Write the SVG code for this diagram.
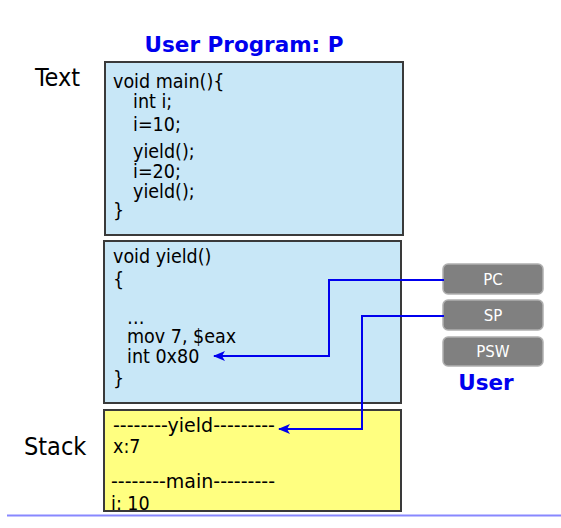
<svg xmlns="http://www.w3.org/2000/svg" width="561" height="528" viewBox="0 0 561 528">
<style>
.code{font-family:Tahoma,"DejaVu Sans Condensed","Liberation Sans",sans-serif;font-size:19.5px;fill:#000}
.lbl{font-family:Tahoma,"DejaVu Sans Condensed","Liberation Sans",sans-serif;font-size:25px;fill:#000}
.title{font-family:"DejaVu Sans","Liberation Sans",sans-serif;font-weight:bold;fill:#0000ee}
.seg{fill:#c8e7f7;stroke:#3a3a3a;stroke-width:2}
.stk{fill:#ffff80;stroke:#3a3a3a;stroke-width:2}
.reg{fill:#808080;stroke:#b0b0b0;stroke-width:1.5}
.regt{font-family:"DejaVu Sans","Liberation Sans",sans-serif;font-size:15px;fill:#fff;text-anchor:middle}
.conn{fill:none;stroke:#0000ee;stroke-width:2}
</style>
<defs>
<marker id="ah" viewBox="0 0 12 10" refX="11" refY="5" markerWidth="12" markerHeight="10" markerUnits="userSpaceOnUse" orient="auto">
<path d="M0,0 L12,5 L0,10 L3,5 Z" fill="#0000ee"/>
</marker>
</defs>
<rect width="561" height="528" fill="#fff"/>
<text class="title" x="244" y="52" font-size="21.5" text-anchor="middle">User Program: P</text>
<g id="label-text"><text class="lbl" x="35" y="86">Text</text></g>
<g id="label-stack"><text class="lbl" x="24" y="455">Stack</text></g>
<g id="main-seg">
<rect class="seg" x="105" y="62" width="298" height="173"/>
<text class="code" x="113" y="88">void main(){</text>
<text class="code" x="133" y="108">int i;</text>
<text class="code" x="133" y="131">i=10;</text>
<text class="code" x="133" y="158">yield();</text>
<text class="code" x="133" y="178">i=20;</text>
<text class="code" x="133" y="198">yield();</text>
<text class="code" x="113" y="217">}</text>
</g>
<g id="yield-seg">
<rect class="seg" x="104" y="241" width="297" height="162"/>
<text class="code" x="113" y="263">void yield()</text>
<text class="code" x="113" y="286">{</text>
<text class="code" x="127" y="324">…</text>
<text class="code" x="127" y="343">mov 7, $eax</text>
<text class="code" x="127" y="363">int 0x80</text>
<text class="code" x="113" y="385">}</text>
</g>
<g id="stack-seg">
<rect class="stk" x="104" y="410" width="297" height="101"/>
<text class="code" x="113" y="432" textLength="162" lengthAdjust="spacingAndGlyphs">--------yield---------</text>
<text class="code" x="113" y="453">x:7</text>
<text class="code" x="111" y="488" textLength="164" lengthAdjust="spacingAndGlyphs">--------main---------</text>
<text class="code" x="111" y="510">i: 10</text>
<rect x="104" y="410" width="297" height="101" fill="none" stroke="#3a3a3a" stroke-width="2"/>
</g>
<g id="reg-pc"><rect class="reg" x="443" y="264" width="100" height="30" rx="5"/><text class="regt" x="493" y="285">PC</text></g>
<g id="reg-sp"><rect class="reg" x="443" y="300" width="100" height="30" rx="5"/><text class="regt" x="493" y="321">SP</text></g>
<g id="reg-psw"><rect class="reg" x="443" y="337" width="100" height="29" rx="5"/><text class="regt" x="493" y="357">PSW</text></g>
<g id="label-user"><text class="title" x="486" y="390" font-size="21.5" text-anchor="middle">User</text></g>
<g id="connectors">
<path class="conn" d="M444,280 H329 V356 H214" marker-end="url(#ah)"/>
<path class="conn" d="M444,316 H362 V429 H279" marker-end="url(#ah)"/>
</g>
<line x1="7" y1="515.5" x2="561" y2="515.5" stroke="#8888ff" stroke-width="2"/>
</svg>
